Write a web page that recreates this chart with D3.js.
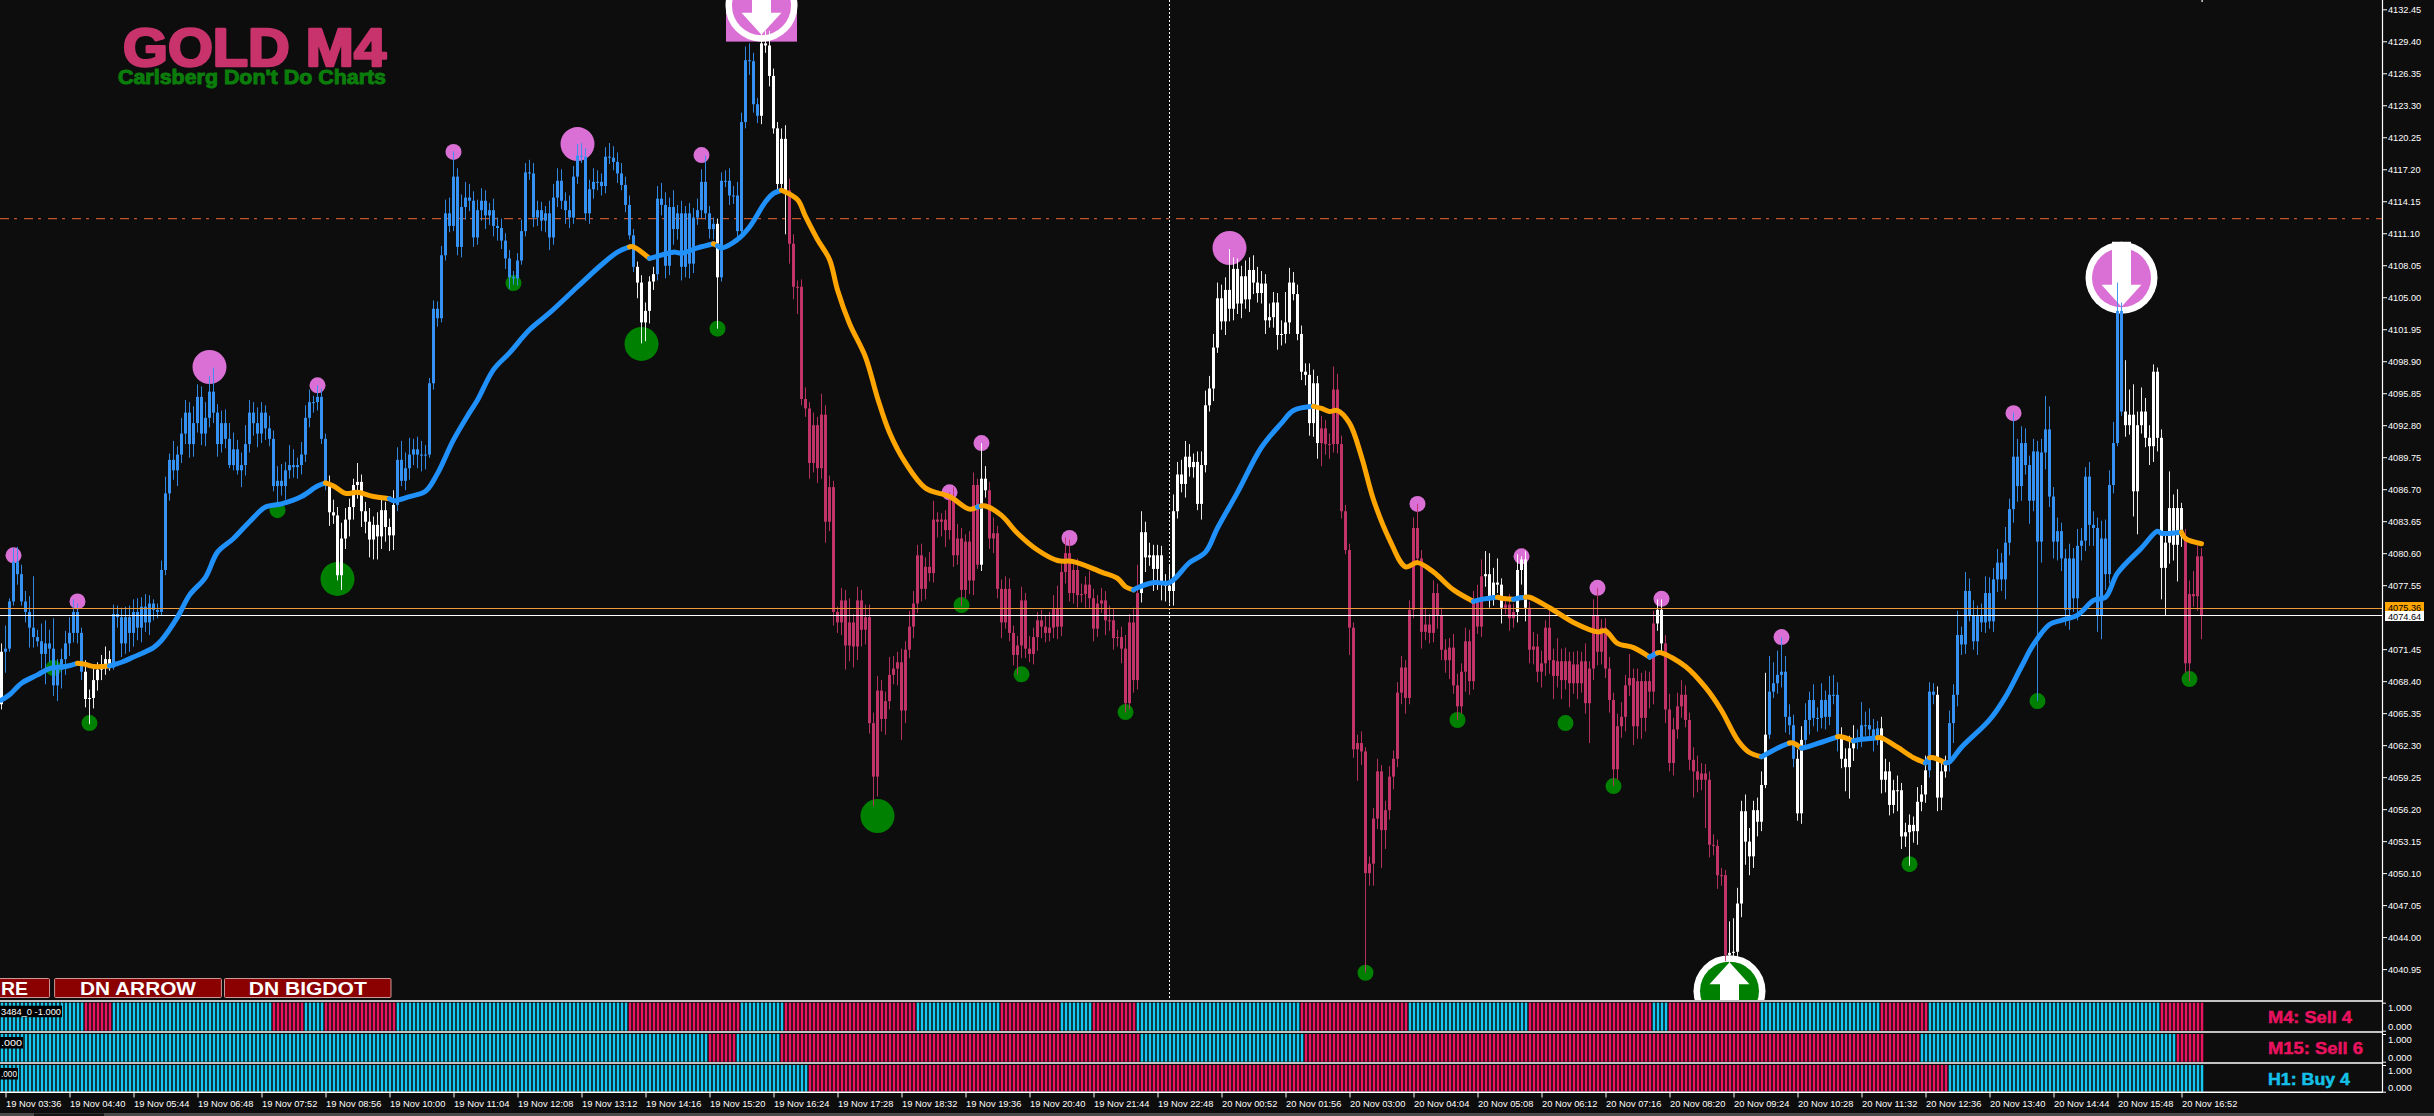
<!DOCTYPE html>
<html><head><meta charset="utf-8">
<script src="https://d3js.org/d3.v7.min.js"></script>
<style>html,body{margin:0;background:#0d0d0d;overflow:hidden}svg{display:block}</style>
</head><body><svg id="c" width="2434" height="1116"></svg>
<script>
const BASE = 4000;
const timeLabels = ["19 Nov 03:36","19 Nov 04:40","19 Nov 05:44","19 Nov 06:48","19 Nov 07:52","19 Nov 08:56","19 Nov 10:00","19 Nov 11:04","19 Nov 12:08","19 Nov 13:12","19 Nov 14:16","19 Nov 15:20","19 Nov 16:24","19 Nov 17:28","19 Nov 18:32","19 Nov 19:36","19 Nov 20:40","19 Nov 21:44","19 Nov 22:48","20 Nov 00:52","20 Nov 01:56","20 Nov 03:00","20 Nov 04:04","20 Nov 05:08","20 Nov 06:12","20 Nov 07:16","20 Nov 08:20","20 Nov 09:24","20 Nov 10:28","20 Nov 11:32","20 Nov 12:36","20 Nov 13:40","20 Nov 14:44","20 Nov 15:48","20 Nov 16:52"];
const priceTicks = [4132.45,4129.40,4126.35,4123.30,4120.25,4117.20,4114.15,4111.10,4108.05,4105.00,4101.95,4098.90,4095.85,4092.80,4089.75,4086.70,4083.65,4080.60,4077.55,4071.45,4068.40,4065.35,4062.30,4059.25,4056.20,4053.15,4050.10,4047.05,4044.00,4040.95];

const closes = [71.2,
71.5,76.0,79.8,78.6,76.0,75.0,73.5,72.6,72.2,71.0,72.0,71.5,68.0,69.5,70.5,72.0,
73.0,75.0,73.0,69.3,66.7,66.8,68.5,69.5,70.0,70.5,69.7,74.8,74.5,72.0,74.5,73.0,
75,73.5,75.5,74,75.8,75.2,75,79,86.3,89.5,88.5,90,92,94,91,93,
95.5,92.0,93.5,96.0,94.0,91.0,93.0,91.5,89.0,90.5,88.5,89.0,91.0,94.0,93.0,92.0,
94.0,92.5,91.5,87,87.5,87,88.5,89,88.8,89,90,93.5,95,95,95.5,91.5,
87,84.5,84.2,78.5,82,83.8,85,87.1,87.4,84.6,83.6,81.9,83.3,82.2,84.7,83.1,
82.3,85.2,89.5,87.5,88.7,90,90.5,90,90,90,96.8,103.9,103,109,113,111.8,
116.5,109.8,113.6,114.5,114.2,110.7,113.3,114.2,112.8,113.3,111.8,111.6,110.4,108.7,106.9,106.8,
108.5,111.3,116.9,116.8,112.6,113.3,112.3,113,110.7,114.5,116.1,114.2,113.3,112.6,116.5,118.5,
118.4,113,115.3,116,116,115.6,118.4,118.3,117.9,116.8,115.7,113.8,110.9,107.9,106.4,102.6,
103.7,106.5,107.2,114.4,113.8,108,113.6,111.5,113,107.9,113,108.2,112.6,113.3,116,113,
111.5,112,106.9,116.1,116.1,114.7,114.7,111.3,121.7,127.6,127.5,123.4,122.3,129.2,129,126.1,
121.1,115.8,120.1,115.2,110.1,106,106,95.3,94.4,89.2,92.8,88.7,93.8,83.6,86.9,75,
74,76.1,71.8,74,71.7,76.1,73.3,74.5,64.4,59.3,67.5,64.8,66.5,69,69.6,70.2,
65.6,71.4,73.6,75.8,80.4,77.2,79.3,78.7,83.8,83.6,83.8,82.8,85.7,80.4,82,77.1,
81.7,78,87.1,79.5,87.7,86.6,82,82.5,77.2,74,77.2,73,70.9,71.8,76.1,71.5,
71,72.6,74.2,73.6,73,73.5,75.3,73.6,78.8,80.6,76.8,79,76.6,76.7,77.6,76.3,
73.4,75.8,76.1,74.2,74.2,72.5,72.6,71.5,66.3,74,68.5,76.8,82.6,80.2,80.4,79.1,
80.4,77.7,77.5,77,84.6,88.1,87.2,89.8,88.8,89.3,85.3,89,94.7,96.3,100.2,104.9,
102.7,105.7,103.9,107.7,104.4,107,104.8,107.6,106.4,105.4,106.3,102.8,103.1,104.5,101.4,101.5,
102.6,106.4,105.3,101.5,97.9,97.6,93,96.8,91.1,92.5,91,91,96.2,91,84.6,80.9,
73.5,61.9,62.5,61.7,50.1,51,55.3,59.8,54.2,56.1,59.3,61,67.3,69.7,66.8,75.2,
83,80.1,73.1,73.8,73,76.8,74.7,71.4,70.4,71.6,68,66,69.3,72.2,68.4,76,
73.6,78.4,78.6,76.5,77.8,77.6,75.4,75.7,74.4,75,79,80,75.4,71.4,71.7,69.3,
70.1,73.5,70.4,68.9,70.3,68.5,70.3,68.2,70,68.2,70.3,66.3,69.6,74.7,71.2,73.5,
69.6,66.6,60,64.1,65,68,68.7,64.1,68.4,64.9,68.4,67.4,73.9,75.2,72,65.7,
60.6,63.8,66,67.1,64.7,60.9,59.8,59,59.6,59,52.8,52.7,49.9,49.9,42.3,42.5,
42.6,47.2,56,53.1,51.7,56.1,55,58.5,63.3,67.4,68.2,69,69.3,65,64.2,61,
55.8,62.8,64.7,66.6,64.9,64.9,66.6,65,67.1,67.1,63.1,61,60.2,62,62.8,62.7,
64.2,64.2,63.8,63,63.9,59,59.8,56.6,58,58,53.6,54,54.7,54.1,56.9,57.6,
59.9,67.4,67.1,57.3,59.8,60.6,64.4,67.1,72.8,71.9,77,74.7,72.2,74.6,74,76.8,
74.1,78.1,79.7,78.1,81.6,84.8,89.8,87,91.1,89,85.6,90.3,81.7,90.2,92.4,86,
81.7,82.7,80.1,75.2,80.1,76.3,81.3,81.8,87.9,83.3,83,74.7,82,78.6,87.1,91.1,
103.7,94.1,92.8,93.8,86.5,92.8,94.1,91.6,90.8,97.9,91.6,79.2,81.6,84.9,81.4,84.9,
82.2,70.1,76.7,76.5,80.3,74.7];

const upperWicks = [0.8,
2.2,0.3,1.3,1.4,0.9,1.0,1.5,4.9,0.7,1.7,2.2,1.3,2.9,1.0,1.0,1.2,
1.5,1.2,0.8,0.5,1.1,0.8,1.2,0.7,0.9,1.2,0.8,0.9,0.8,0.9,1.0,1.1,
1.2,1.3,0.9,1.2,0.8,0.4,0.6,0.9,1.6,0.6,1.8,0.8,1.5,1.2,1.0,1.6,
1.2,1.0,1.5,1.5,2.3,0.8,1.2,1.3,1.5,1.6,0.9,1.2,1.8,1.2,1.0,1.5,
1.0,0.7,1.2,0.8,1.4,1.6,0.8,1.9,1.5,0.7,1.2,1.2,1.2,0.6,1.1,0.8,
0.5,1.0,1.2,0.8,1.5,1.1,0.8,0.6,1.8,0.7,0.9,1.3,0.8,1.2,1.0,0.8,
0.8,1.4,1.2,1.8,1.5,1.6,1.0,1.2,1.3,0.9,0.5,0.8,0.7,0.9,1.3,1.5,
2.4,0.8,1.2,1.5,1.3,0.9,1.0,1.2,1.0,0.7,1.1,0.8,0.9,0.7,0.8,0.6,
0.7,1.1,0.9,1.2,1.0,0.9,0.8,0.7,1.2,1.3,1.2,1.1,0.8,1.4,1.0,1.1,
1.2,0.8,0.9,1.3,1.1,0.8,0.9,1.3,1.1,0.9,1.0,0.8,0.9,0.6,0.5,0.7,
0.8,0.5,0.7,1.2,1.5,1.2,0.9,1.6,0.8,1.2,0.7,1.0,0.9,1.1,1.2,2.5,
0.7,0.6,0.5,0.8,1.0,1.2,0.9,1.3,0.9,1.3,1.6,0.8,0.6,1.2,1.2,1.4,
0.7,0.6,1.0,1.3,1.1,0.9,0.6,0.7,1.1,0.6,1.2,0.8,2.0,0.9,1.1,0.6,
0.5,1.2,1.0,2.3,0.8,1.3,1.0,1.2,1.2,1.0,1.4,1.0,0.9,1.7,1.2,1.0,
1.3,0.8,1.5,1.2,1.0,1.1,0.9,1.4,1.8,0.7,0.6,0.9,0.7,1.2,1.4,1.0,
0.7,1.0,1.2,0.6,3.4,1.2,0.8,1.5,0.7,0.9,1.2,1.0,0.7,0.9,1.3,0.7,
1.2,0.9,0.8,1.0,1.1,1.5,1.3,2.2,1.2,1.5,1.3,0.9,1.1,1.0,0.8,1.3,
0.9,0.8,1.2,0.9,1.4,1.1,0.7,1.0,1.3,0.8,1.4,2.7,2.0,1.0,1.2,1.0,
1.0,0.9,0.9,2.0,1.6,1.2,1.4,1.5,1.2,0.8,1.0,1.3,1.4,1.2,1.3,1.5,
1.3,1.2,3.9,1.1,1.0,1.0,1.5,1.2,1.4,1.5,1.2,0.9,1.3,1.0,0.9,1.3,
2.9,1.4,1.0,0.9,0.8,0.8,1.1,1.3,0.7,1.2,0.8,1.0,2.2,1.5,0.8,0.6,
0.6,0.5,0.8,1.1,0.4,0.7,1.0,1.2,0.6,0.9,1.0,0.8,1.0,1.1,0.7,0.9,
1.0,2.3,0.8,1.6,1.0,1.2,0.9,0.7,1.0,0.9,1.3,1.1,0.8,1.3,1.1,1.0,
1.6,1.6,2.2,2.0,1.4,2.3,0.6,0.7,1.0,0.8,1.5,0.3,0.8,0.6,1.4,1.2,
1.2,0.7,1.6,1.1,2.2,1.2,1.3,0.9,1.2,1.3,0.9,1.7,0.7,1.5,2.6,0.8,
0.9,1.1,0.7,1.2,1.4,1.0,2.3,0.9,1.2,0.8,1.0,0.9,1.2,1.0,1.0,0.8,
1.5,1.1,1.3,1.4,0.9,0.7,1.2,1.5,1.0,0.9,0.8,1.0,0.6,0.7,0.5,3.0,
3.2,1.5,1.0,1.6,1.3,0.9,1.2,1.3,5.9,3.4,2.0,2.3,3.3,1.5,1.2,1.0,
0.9,1.3,1.6,0.8,1.5,1.0,1.6,0.9,1.8,1.9,1.2,0.9,1.0,1.2,1.4,1.0,
2.2,1.3,1.6,1.0,0.7,1.1,1.2,0.9,1.0,1.4,0.7,0.9,1.0,0.8,1.4,0.9,
1.4,0.9,0.8,0.8,0.9,0.7,1.2,1.0,2.3,0.8,1.8,1.2,1.4,1.0,1.2,1.6,
1.5,1.1,1.3,0.9,1.5,1.0,4.2,1.7,1.6,1.4,0.9,1.2,1.0,1.3,3.2,2.2,
0.9,1.3,0.8,0.9,1.4,1.0,1.6,1.2,0.9,1.4,1.3,1.0,1.7,1.8,1.4,2.0,
2.7,0.8,4.9,2.4,2.9,1.3,2.3,1.3,1.2,0.7,0.4,0.8,1.0,3.5,1.3,1.8,
0.5,0.7,1.3,2.2,1.2,0.8];

const lowerWicks = [0.5,
2.0,0.3,0.4,1.0,0.4,1.0,1.9,1.0,0.5,1.4,2.9,1.3,1.0,1.5,1.8,1.5,
1.2,0.9,1.0,0.8,0.8,2.4,1.0,1.0,1.0,1.0,0.3,0.2,1.0,1.3,1.0,1.8,
1.3,1.2,1.4,0.9,1.2,1.0,0.6,0.4,0.5,0.7,0.9,1.5,0.8,1.0,1.3,1.2,
0.9,1.1,1.2,0.9,1.0,1.2,0.8,0.9,0.3,0.5,0.4,1.6,1.0,0.8,1.2,1.3,
0.9,1.1,0.7,0.5,2.0,0.9,1.3,0.8,1.0,1.1,0.9,0.7,0.9,1.0,0.8,0.5,
0.4,1.3,0.8,0.5,1.4,1.0,1.6,1.2,1.3,1.5,1.1,1.7,1.9,2.2,1.2,1.4,
1.5,1.4,0.6,0.5,0.9,1.1,1.0,1.3,1.6,1.4,0.3,0.6,0.8,0.4,0.5,0.6,
0.5,0.8,1.0,1.2,1.0,0.9,0.7,1.0,1.3,0.9,1.0,1.2,0.8,1.0,1.1,0.6,
0.7,0.4,0.5,0.6,0.9,0.8,1.0,1.1,1.2,0.7,0.9,0.8,1.3,1.0,0.6,0.7,
0.6,0.7,1.0,0.9,0.8,0.9,0.7,0.6,0.8,0.9,0.5,0.7,0.4,0.5,1.5,2.0,
1.8,1.2,0.8,0.6,1.0,1.2,0.9,1.5,1.0,1.3,1.0,1.4,0.9,0.7,0.8,0.6,
0.9,1.0,4.9,0.4,0.6,0.9,0.8,1.1,0.5,0.6,1.3,0.8,0.7,0.8,0.7,1.0,
0.5,0.6,0.5,4.2,1.9,1.2,2.6,0.6,0.8,1.5,0.9,1.4,1.0,2.0,0.9,1.3,
1.0,1.2,2.3,1.5,2.0,1.3,1.6,1.4,1.0,2.8,1.9,1.2,1.5,0.8,0.9,1.6,
2.8,1.2,0.8,1.1,0.9,1.2,1.0,0.8,0.9,1.5,1.4,1.6,0.9,1.1,0.9,1.5,
0.8,1.3,1.4,0.4,0.6,0.7,1.0,1.4,0.9,1.5,0.6,0.8,1.0,1.9,1.2,0.9,
0.8,1.0,1.3,1.1,0.9,0.8,1.0,1.2,0.9,1.1,0.8,1.0,1.2,0.7,1.3,1.0,
1.2,0.8,0.9,1.4,1.0,1.1,0.8,1.4,0.9,0.6,1.2,0.9,0.9,1.4,0.8,2.1,
2.0,1.6,1.5,1.2,1.4,0.7,0.8,1.3,0.9,1.0,0.6,1.5,0.7,0.6,1.2,0.5,
0.8,1.3,1.2,1.1,1.0,1.4,0.9,1.2,1.1,0.9,1.0,1.3,0.7,1.0,1.4,1.0,
0.9,1.1,0.6,0.6,0.8,1.0,1.2,1.3,1.5,2.2,1.0,1.4,0.8,0.9,0.7,0.4,
2.6,0.8,3.0,1.3,9.5,1.2,2.1,1.0,3.6,1.8,0.9,1.2,0.8,1.1,1.5,0.6,
0.8,0.6,1.6,0.8,1.0,0.9,1.3,1.0,1.2,1.8,0.8,1.3,0.7,1.9,1.3,0.8,
0.7,1.0,1.0,1.1,0.9,0.8,1.5,0.6,1.2,0.9,1.0,1.4,1.3,1.3,1.4,1.0,
1.5,1.2,1.3,2.2,1.1,1.8,0.9,2.3,1.0,1.5,0.9,1.0,3.8,1.1,1.3,1.2,
0.9,1.2,1.6,1.0,1.1,1.4,1.0,1.8,1.2,2.0,1.3,1.6,1.2,0.7,1.0,1.3,
0.8,1.2,0.9,1.1,0.7,1.0,2.5,1.2,1.0,4.6,1.2,0.9,1.3,1.0,0.6,1.8,
0.7,1.0,1.3,2.2,1.8,1.1,1.4,0.9,0.3,0.4,0.6,1.0,1.2,1.5,0.9,0.8,
0.7,1.0,0.9,1.4,0.8,1.3,1.0,1.2,0.8,0.9,1.4,0.9,2.3,3.0,1.2,0.8,
0.6,1.0,0.8,1.3,0.7,1.3,1.2,1.0,0.8,2.0,1.2,1.0,3.2,1.1,1.3,0.9,
0.8,0.7,0.9,1.3,1.2,0.6,0.8,1.9,1.1,1.0,0.9,0.6,0.8,1.3,0.9,1.0,
0.7,1.0,1.2,1.1,1.9,1.2,1.3,1.5,1.4,0.9,2.2,1.0,15.2,2.0,1.6,1.0,
1.6,1.8,1.2,1.5,1.9,1.3,2.1,1.4,1.0,2.0,1.7,1.6,2.3,1.5,0.9,0.8,
0.3,0.4,1.1,0.9,2.4,4.1,0.8,0.9,1.8,1.5,1.3,3.0,4.5,2.0,1.5,3.5,
1.0,0.9,1.7,1.0,1.4,2.3];

// candle colour regimes as [state, bar count]
const candleRuns = [["w",1],["b",20],["w",7],["b",54],["w",17],["b",60],["w",5],["b",15],["w",1],["b",10],["w",7],["r",48],["w",2],["r",38],["w",45],["r",41],["w",5],["r",3],["w",3],["r",32],["w",2],["r",16],["w",10],["b",7],["w",2],["b",9],["w",4],["b",6],["w",12],["b",2],["w",3],["b",44],["w",15],["r",5]];

// heat-strip regimes: alternating run lengths, starting with buy
const m4Runs  = [21,7,40,8,5,18,58,28,11,33,21,15,8,11,41,27,30,31,4,23,30,12,58,11];
const m15Runs = [177,7,11,90,41,154,64,7];
const h1Runs  = [202,285,64];

// moving average read points
const emaBars = [0,2,5,9,12,16,19, 21,23,27, 30,33,38,40,44,47,51,54,58,62,66,70,75,79,81, 83,86,89,93,97, 98,102,106,109,113,117,119,123,127,132,137,144,150,154,157, 158,162, 163,168,170,174,178, 179, 180,184,187,191,193,195, 199,201,204,207,209,212,216,219,222,226,231,237,242,244, 245, 246,250,254,259,264,268,275,279,281,283, 284,288,292,297,301,304,309,315,320,323,328, 330,332,334,337,340,343,347,351,354,358,363,368, 370,374, 375,378, 379,381, 382,387,393,399,401,404,408,412, 414, 415,421,426,430,434,437,440, 445,447, 448,450, 451,459, 460,463, 464,469, 470,474,478,481, 482, 483,486, 487,490,497,501,505,508,512,515,519,523,526,529,535,539,540,545, 546,550];
const emaPrices = [66.6,67.1,68.2,69,69.6,69.8,70.1, 70,69.8,69.85, 70.2,70.7,71.6,72.3,74.5,76.6,78.3,80.7,82,83.6,85,85.3,86,87,87.3, 87,86.3,86.4,86,85.8, 85.6,86,86.5,88.2,91.4,94,95.2,98.1,99.7,101.9,103.5,106,108.1,109.3,109.8, 109.8,108.7, 108.8,109.3,109.2,109.7,110.1, 109.9, 109.7,110.5,111.7,114.1,114.9,115.2, 114.3,112.7,110.5,108.6,105.7,102.5,99.3,95.4,92.1,89.2,86.8,86,84.8,85, 85.1, 85.1,84.2,82.5,80.9,79.9,79.8,78.8,78.2,77.4,77.1, 77.3,77.8,77.8,79.7,80.7,83,86.4,90.7,93,94.2,94.6, 94.4,94.1,94.2,93,89.8,85.7,81.9,79.3,79.7,78.8,77.1,76, 76.2,76.4, 76.3,76.2, 76.3,76.4, 76.4,75.4,74,73.1,73.2,72,71.6,70.7, 71.1, 71.1,69.8,67.8,65.6,62.8,61.6,61.2, 62.2,62.5, 62.5,62, 62.1,63.1, 63.1,62.7, 62.8,63, 63,62.1,61.1,60.6, 61.1, 61.1,60.6, 60.7,62.1,64.7,66.9,69.8,71.9,73.8,74.2,74.7,76.1,76.4,78.7,81.1,82.7,82.5,82.6, 82,81.5];
const emaColorRuns = [["b",7],["o",3],["b",15],["o",5],["b",15],["o",2],["b",5],["o",1],["b",6],["o",14],["b",1],["o",10],["b",11],["o",12],["b",2],["o",2],["b",2],["o",8],["b",1],["o",7],["b",2],["o",2],["b",2],["o",2],["b",2],["o",4],["b",1],["o",2],["b",16],["o",2]];

// swing dots
const pinkBars   = [3,19,79,113,175,245,237,267,354,380,399,415,445,503];
const pinkPrices = [80.4,76.0,96.6,118.85,118.55,91.1,86.4,82.05,85.3,80.3,77.3,76.25,72.6,93.95];
const bigPinkBars   = [52,144,307];
const bigPinkPrices = [98.35,119.6,109.7];
const greenBars   = [13,22,69,128,179,240,255,281,364,341,391,403,477,509,547];
const greenPrices = [69.65,64.4,84.7,106.35,102,75.65,69.05,65.45,64.7,40.6,64.4,58.4,50.95,66.5,68.6];
const bigGreenBars   = [84,160,219];
const bigGreenPrices = [78.15,100.55,55.55];
const downArrowBars = [190,530];
const downArrowPrices = [132.8,106.85];
const upArrowBars = [432];
const upArrowPrices = [38.85];

const resistance = 4112.5, askPrice = 4075.36, bidPrice = 4074.64;
const crosshairBar = 292;
const panelLabels = [["M4: Sell 4","#e8125f"],["M15: Sell 6","#e8125f"],["H1: Buy 4","#14c0e8"]];
const buttons = ["RE","DN ARROW","DN BIGDOT"];
const windowTags = ["3484_0 -1.000",".000",".000"];

const lens=[closes.length,upperWicks.length,lowerWicks.length,emaBars.length,emaPrices.length,d3.sum(emaColorRuns,d=>d[1]),d3.sum(candleRuns,d=>d[1]),d3.sum(m4Runs),d3.sum(m15Runs),d3.sum(h1Runs)];
if(lens.slice(0,3).some(v=>v!==551)||lens[3]!==lens[4]||lens[3]!==lens[5]||lens.slice(6).some(v=>v!==551)) throw new Error("length check "+lens.join(","));

const svg = d3.select("#c");
const FONT = "'Liberation Sans',Arial,sans-serif";
const x = d3.scaleLinear().domain([0,550]).range([1.5,2201.5]);
const y = d3.scaleLinear().domain([4132.45,4040.95]).range([9.3,969.1]);
const Y = v => y(BASE+v);
const colours = {w:"#ffffff",b:"#3592f2",r:"#c03468",o:"#ffa500",e:"#2090fa"};
const candleState = candleRuns.flatMap(([s,n])=>d3.range(n).map(()=>s));
const expand = runs => runs.flatMap((n,k)=>d3.range(n).map(()=>k%2===0?1:0));

svg.append("rect").attr("width",2434).attr("height",1116).attr("fill","#0d0d0d");

// crosshair + resistance below everything
svg.append("line").attr("x1",x(crosshairBar)).attr("x2",x(crosshairBar)).attr("y1",0).attr("y2",1000)
  .attr("stroke","#ffffff").attr("stroke-width",1).attr("stroke-dasharray","2,2");
svg.append("line").attr("x1",0).attr("x2",2382).attr("y1",y(resistance)).attr("y2",y(resistance))
  .attr("stroke","#c0552d").attr("stroke-width",1.3).attr("stroke-dasharray","9,5,3,7");

// title
svg.append("text").text("GOLD M4").attr("x",123).attr("y",66).attr("font-family",FONT).attr("font-weight",700)
  .attr("font-size",53).attr("fill","#c8336c").attr("stroke","#c8336c").attr("stroke-width",2.6).attr("stroke-linejoin","round")
  .attr("textLength",263).attr("lengthAdjust","spacingAndGlyphs");
svg.append("text").text("Carlsberg Don't Do Charts").attr("x",118).attr("y",84).attr("font-family",FONT).attr("font-weight",700)
  .attr("font-size",21).attr("fill","#0b7d0b").attr("stroke","#0b7d0b").attr("stroke-width",1)
  .attr("textLength",268).attr("lengthAdjust","spacingAndGlyphs");

// dots
const dots=(bars,prices,r,fill)=>svg.append("g").selectAll("circle").data(bars).join("circle")
  .attr("cx",d=>x(d)).attr("cy",(d,k)=>Y(prices[k])).attr("r",r).attr("fill",fill);
const PINK="#da70d6",GREEN="#008000";
dots(pinkBars,pinkPrices,8,PINK); dots(bigPinkBars,bigPinkPrices,17,PINK);
dots(greenBars,greenPrices,8,GREEN); dots(bigGreenBars,bigGreenPrices,17,GREEN);

// arrow discs
function disc(bar,price,fill,up,square){
  const cx=x(bar),cy=Y(price),g=svg.append("g").attr("transform",`translate(${cx},${cy})`);
  if(square) g.append("rect").attr("x",-35.5).attr("y",-36).attr("width",71).attr("height",72).attr("fill",fill);
  g.append("circle").attr("r",36).attr("fill","#ffffff");
  g.append("circle").attr("r",29.5).attr("fill",fill);
  const s=up?-1:1;
  g.append("path").attr("fill","#ffffff").attr("d",d3.line()([[-9.5,-36*s],[9.5,-36*s],[9.5,7*s],[20,7*s],[0,29*s],[-20,7*s],[-9.5,7*s]])+"Z");
}
downArrowBars.forEach((b,k)=>disc(b,downArrowPrices[k],PINK,false,k===0));
upArrowBars.forEach((b,k)=>disc(b,upArrowPrices[k],GREEN,true,false));

// candles
const bars=d3.range(551).map(i=>{
  const c=closes[i],o=i?closes[i-1]:c-5,top=Math.max(o,c),bot=Math.min(o,c);
  return {i,top,bot,high:top+upperWicks[i],low:bot-lowerWicks[i],col:colours[candleState[i]]};
});
const cg=svg.append("g");
cg.selectAll("line").data(bars).join("line").attr("x1",d=>x(d.i)).attr("x2",d=>x(d.i))
  .attr("y1",d=>Y(d.high)).attr("y2",d=>Y(d.low)).attr("stroke",d=>d.col).attr("stroke-width",1).attr("opacity",.92);
cg.selectAll("rect").data(bars).join("rect").attr("x",d=>x(d.i)-1.5).attr("width",3)
  .attr("y",d=>Y(d.top)).attr("height",d=>Math.max(1,Y(d.bot)-Y(d.top))).attr("fill",d=>d.col);

// price lines
[[askPrice,"#ef9a3a"],[bidPrice,"#ffffff"]].forEach(([p,c])=>svg.append("line").attr("x1",0).attr("x2",2382)
  .attr("y1",Math.floor(y(p))+.5).attr("y2",Math.floor(y(p))+.5).attr("stroke",c).attr("stroke-width",1));

// moving average: one smooth path per colour run, joined to the previous run's last point
const emaLine=d3.line().x(d=>x(d[0])).y(d=>Y(d[1])).curve(d3.curveCatmullRom.alpha(.5));
let runStart=0;
const emaG=svg.append("g");
emaColorRuns.forEach(([s,n])=>{
  const from=Math.max(0,runStart-1), to=runStart+n;
  const pts=d3.range(from,to).map(k=>[emaBars[k],emaPrices[k]]);
  emaG.append("path").attr("fill","none").attr("stroke-width",5).attr("stroke-linecap","round").attr("stroke-linejoin","round")
    .attr("stroke",s==="b"?colours.e:colours.o).attr("d",emaLine(pts));
  runStart=to;
});

// heat panels
const panelTops=[1002.7,1034,1065], panelBots=[1030.7,1061.7,1091.7];
svg.append("rect").attr("x",0).attr("y",1000).attr("width",2383).attr("height",93).attr("fill","#0d0d0d");
[m4Runs,m15Runs,h1Runs].forEach((runs,p)=>{
  const yp=d3.scaleLinear().domain([0,1]).range([panelBots[p],panelTops[p]]);
  const st=expand(runs);
  svg.append("g").selectAll("rect").data(st).join("rect")
    .attr("x",(d,i)=>x(i)-0.75).attr("width",2.5).attr("y",yp(1)).attr("height",yp(0)-yp(1))
    .attr("fill",d=>d?"#14c8f0":"#ea1460");
  const ax=svg.append("g").attr("transform","translate(2382,0)")
    .call(d3.axisRight(yp).tickValues([1,0]).tickFormat(d3.format(".3f")).tickSize(4).tickPadding(2));
  ax.select(".domain").remove();
  ax.selectAll("line").attr("stroke","#fff");
  ax.selectAll("text").attr("fill","#fff").attr("font-family",FONT).attr("font-size",9.5)
    .attr("dy",d=>d===1?"0.85em":"-0.1em").attr("dx",0);
  const [txt,col]=panelLabels[p];
  svg.append("text").text(txt).attr("x",2268).attr("y",[1023,1054,1085][p]).attr("font-family",FONT).attr("font-weight",700)
    .attr("font-size",17).attr("fill",col).attr("stroke",col).attr("stroke-width",.5)
    .attr("textLength",[84,95,82][p]).attr("lengthAdjust","spacingAndGlyphs");
});
// panel frame lines
[1001,1032,1063,1092.3].forEach(v=>svg.append("line").attr("x1",0).attr("x2",2382).attr("y1",v).attr("y2",v).attr("stroke","#fff").attr("stroke-width",1.6));

// window labels at panel left
[[1005.7,62],[1037,23],[1068,18]].forEach(([b,w],k)=>{
  svg.append("rect").attr("x",0).attr("y",b).attr("width",w).attr("height",11.5).attr("fill","#000");
  svg.append("text").text(windowTags[k]).attr("x",w-1).attr("y",b+9).attr("text-anchor","end").attr("font-family",FONT).attr("font-size",9.5).attr("fill","#fff")
    .attr("textLength",w-2).attr("lengthAdjust","spacingAndGlyphs");
});

// buttons
[[-20,49.5],[54.6,221.4],[224.5,391]].forEach(([a,b],k)=>{
  svg.append("rect").attr("x",a).attr("y",978.5).attr("width",b-a).attr("height",19).attr("fill","#8b0000").attr("stroke","#c99").attr("stroke-width",1).attr("rx",1);
  const w=[27,116,118][k];
  svg.append("text").text(buttons[k]).attr("x",k?(a+b)/2-w/2:1).attr("y",994.5).attr("font-family",FONT).attr("font-weight",700)
    .attr("font-size",18.5).attr("fill","#fff").attr("textLength",w).attr("lengthAdjust","spacingAndGlyphs");
});

// price axis
const pa=svg.append("g").attr("transform","translate(2382,0)")
  .call(d3.axisRight(y).tickValues(priceTicks).tickFormat(d3.format(".2f")).tickSize(5).tickPadding(1));
pa.select(".domain").remove();
pa.selectAll("line").attr("stroke","#fff");
pa.selectAll("text").attr("fill","#fff").attr("font-family",FONT).attr("font-size",9.2);
svg.append("line").attr("x1",2382.5).attr("x2",2382.5).attr("y1",0).attr("y2",1092.5).attr("stroke","#fff").attr("stroke-width",1.2);

// price tags
[[askPrice,"#ffa500",602,"#000"],[bidPrice,"#ffffff",611,"#000"]].forEach(([p,bg,top,fg])=>{
  svg.append("rect").attr("x",2385).attr("y",top).attr("width",39).attr("height",10).attr("fill",bg);
  svg.append("text").text(d3.format(".2f")(p)).attr("x",2388).attr("y",top+8.5).attr("font-family",FONT).attr("font-size",9.2).attr("fill",fg);
});

// time axis
const tickBars=timeLabels.map((_,k)=>1+16*k);
const ta=svg.append("g").attr("transform","translate(0,1092.5)")
  .call(d3.axisBottom(x).tickValues(tickBars).tickFormat((d,k)=>timeLabels[k]).tickSize(5).tickPadding(3));
ta.select(".domain").remove();
ta.selectAll("line").attr("stroke","#fff");
ta.selectAll("text").attr("fill","#fff").attr("font-family",FONT).attr("font-size",9).attr("text-anchor","start")
  .attr("textLength",55.5).attr("lengthAdjust","spacingAndGlyphs");

// bottom window strip
svg.append("rect").attr("x",0).attr("y",1113).attr("width",2434).attr("height",3).attr("fill","#4a4a4a");
svg.append("rect").attr("x",34).attr("y",1113.5).attr("width",70).attr("height",3).attr("fill","#141414");
svg.append("rect").attr("x",x(550)).attr("y",0).attr("width",1.2).attr("height",2).attr("fill","#fff");
</script></body></html>
